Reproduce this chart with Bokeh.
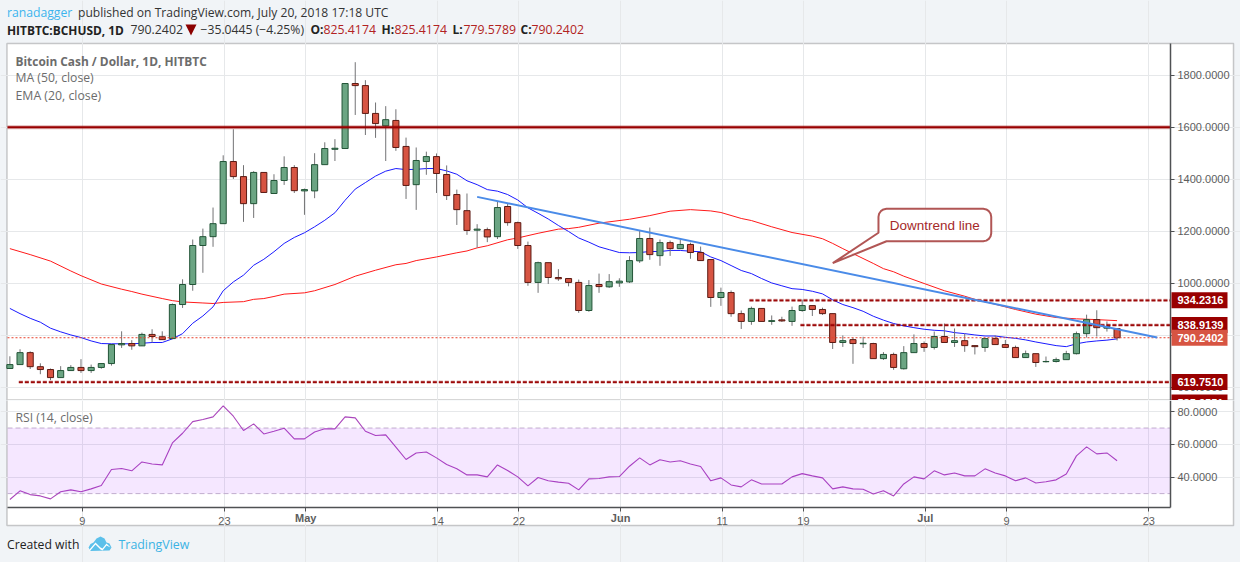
import math
from bokeh.embed import file_html
from bokeh.resources import INLINE
from bokeh.plotting import figure
from bokeh.layouts import column
from bokeh.models import (ColumnDataSource, BoxAnnotation, Label, FixedTicker,
                          PolyAnnotation, Range1d)
from bokeh.core.properties import value

opens = [672,687,733,679,668,637,664,676,664,676,691,763,768,759,803,794,787,918,995,1145,1179,1229,1468,1410,1306,1426,1345,1395,1445,
         1355,1355,1456,1515,1518,1768,1760,1653,1605,1626,1526,1379,1468,1487,1418,1341,1279,1204,1206,1179,1295,1233,1145,1003,1079,1022,1018,1003,895,995,
         986,1001,1005,1086,1172,1106,1156,1133,1149,1118,1091,945,964,883,853,903,853,859,853,895,914,899,883,772,783,767,768,710,726,
         671,733,768,753,795,772,779,760,753,787,764,753,714,729,698,699,706,729,806,860,827,825.4174]
highs = [719,746,738,692,672,681,685,708,687,691,764,815,781,810,823,815,922,1015,1168,1210,1291,1492,1592,1454,1431,1426,1419,1488,1454,
         1364,1500,1542,1554,1768,1850,1781,1695,1681,1669,1560,1522,1506,1499,1453,1360,1345,1227,1214,1314,1306,1237,1160,1083,1079,1054,1018,1014,1012,1037,
         1035,1019,1104,1201,1214,1168,1164,1168,1156,1141,1091,983,972,895,910,903,876,871,910,937,914,906,883,799,791,794,771,735,733,
         758,803,776,814,845,826,806,760,787,799,782,760,741,729,718,714,740,814,879,896,853,825.4174]
lows = [672,687,670,650,627,637,664,655,655,671,683,751,744,759,772,783,787,905,971,1040,1140,1229,1401,1236,1251,1349,1345,1378,1347,
        1263,1327,1456,1470,1518,1647,1570,1559,1470,1509,1324,1282,1417,1347,1320,1224,1186,1137,1158,1170,1221,1132,990,963,997,1009,988,886,890,963,
        982,986,1001,1078,1090,1067,1105,1131,1094,1086,909,913,871,824,840,853,840,851,836,890,874,878,747,755,690,751,710,705,667,
        668,733,736,745,772,755,736,726,736,764,753,714,714,678,695,695,706,726,791,795,814,779.5789]
closes = [687,733,679,668,637,664,676,664,676,691,764,768,759,803,795,783,918,995,1145,1179,1229,1468,1410,1306,1426,1349,1395,1445,1356,
          1360,1456,1518,1519,1768,1760,1653,1614,1629,1522,1376,1472,1487,1422,1337,1283,1203,1208,1178,1291,1233,1145,1003,1079,1022,1017,1003,895,991,987,
          1006,1008,1087,1172,1110,1156,1133,1149,1118,1087,945,964,883,853,903,853,856,855,895,914,899,883,772,779,768,769,710,726,676,
          733,768,753,795,772,779,760,756,787,764,753,714,729,695,699,706,729,806,860,829,833,790.2402]

ma_days = [0,2,4,6,7,9,11,12,13,15,16,17,19,20,21,23,24,25,26,27,29,30,32,34,36,38,39,40,42,44,45,46,47,49,50,52,54,55,56,58,
           61,63,65,67,69,70,72,73,75,77,79,80,81,82,83,85,86,87,88,90,92,94,95,97,99,101,103,105,107,109]
ma_vals = [1133,1110,1085,1047,1029,997,977,968,958,941,933,928,924,922,926,929,938,941,949,958,963,971,995,1027,1050,1071,1076,1087,1101,1117,1124,1136,1144,1167,1174,1192,1208,1210,1215,1231,
           1246,1260,1277,1283,1278,1272,1249,1241,1217,1195,1181,1171,1153,1133,1114,1076,1056,1044,1027,999,971,950,938,919,899,881,868,863,860,856]

ema_vals = [903,883,865,850,827,813,801,791,778,768,767,767,767,769,772,772,786,806,846,874,909,971,1005,1031,1069,1092,1121,1153,1176,
            1194,1217,1242,1271,1319,1362,1387,1412,1431,1441,1437,1438,1441,1441,1432,1419,1394,1379,1360,1354,1341,1320,1290,1269,1247,1222,1199,1174,1158,1140,
            1129,1118,1117,1118,1122,1122,1126,1126,1123,1121,1101,1087,1068,1049,1037,1018,1001,990,979,976,969,959,936,918,906,892,873,858,845,
            836,829,823,819,817,810,806,801,797,797,792,788,782,774,767,760,756,767,774,778,781,786]

rsi_vals = [26.4,31.7,29.4,28.6,26.8,31.1,32.3,31.1,32.9,34.9,44.7,45.3,43.9,49.3,48.1,47.5,60.9,66.8,73.9,75.2,76.8,83.5,77.2,68.5,72.5,66.4,68,69.9,63.4,63.4,
            67.6,69.5,69.5,76.8,76.2,68,65.4,65.8,58.3,50.8,54.8,55.4,51.8,47.7,45.1,41.4,41.4,40.2,47.5,44.1,40.2,34.7,39.8,37.8,37,36.3,32.3,39,39.2,40.2,40.4,
            46.7,51.8,47.5,50.6,49.3,50,48.1,46.5,37.8,39.6,35.3,34.1,38.4,35.9,35.9,35.9,40.2,42.2,40.8,39.6,32.9,34.1,32.9,32.7,29.8,31.7,28.6,35.9,40.2,39,
            43.9,41.4,42.6,40.8,40.8,45.1,42.6,40.8,37.8,39.6,36.5,37.2,38.4,42,53,58.5,54.2,54.8,50]

BAR_SHIFT = 0.12   # bars sit a pixel left of the day gridlines
days = [d-BAR_SHIFT for d in range(len(closes))]
ma_x = [d-BAR_SHIFT for d in ma_days]
time_ticks = [7,21,29,42,50,60,70,78,90,98,112]
time_labels = ["9","23","May","14","22","Jun","11","19","Jul","9","23"]
month_names = {"May","Jun","Jul"}
price_ticks = [600,800,1000,1200,1400,1600,1800]
rsi_ticks = [40,60,80]
resistance_1600 = 1600.0
level_starts = [0.76,72.69,77.71]
level_vals = [619.7510,934.2316,838.9139]
last_close = 790.2402
trend_days = [45.88,112.83]
trend_vals = [1332,791]
callout_left, callout_right, callout_top, callout_bottom = 85.39,96.49,1286,1161.5
callout_base = (85.39,1194)
callout_tip = (80.89,1077)
callout_base2 = (86.18,1161.5)
tags = [(934.2316,"934.2316","#990000"),(838.9139,"838.9139","#990000"),
        (790.2402,"790.2402","#d75442"),(619.7510,"619.7510","#990000"),(541.0,"585.2551","#990000")]

BG="#f1f4f7"; GRID="#e6e8ea"; FRAME="#4f5153"; AXT="#5d5d5d"; LEG="#6c6c6c"
UP="#6ba583"; UPL="#225437"; DN="#d75442"; DNL="#5b1a13"; WICK="#737375"; DR="#990000"
F="Open Sans"; AF="Liberation Sans"
XL,XR=-0.354,114.14        # pane edges in days
XMIN,XMAX=-1.0435,121.03   # page edges in days

def base(h, yr, pane_y):
    f = figure(width=1240, height=h, x_range=Range1d(XMIN,XMAX), y_range=yr,
               output_backend="svg", toolbar_location=None, tools="", min_border=0,
               border_fill_color=BG, background_fill_color=BG, y_axis_location="right")
    f.outline_line_color=None
    f.xgrid.ticker=FixedTicker(ticks=time_ticks); f.xgrid.grid_line_color=GRID; f.ygrid.grid_line_color=GRID
    f.xgrid.bounds=pane_y; f.ygrid.bounds=(XL,XR)
    ax=f.yaxis[0]
    ax.fixed_location=XR; ax.bounds=pane_y
    ax.axis_line_color=FRAME; ax.axis_line_width=1.5; ax.major_tick_line_color=FRAME; ax.major_tick_in=0; ax.major_tick_out=4
    ax.minor_tick_line_color=None; ax.major_label_text_font=AF; ax.major_label_text_font_size="11px"
    ax.major_label_text_color=AXT; ax.major_label_standoff=3; ax.major_label_text_align="left"
    return f

def pane_box(f,t,b):
    f.add_layout(BoxAnnotation(left=6.5,right=1233,top=t,bottom=b,left_units="canvas",right_units="canvas",top_units="canvas",bottom_units="canvas",
        fill_color="white",fill_alpha=1,line_color=FRAME,line_width=1.5,level="image"))

def lab(f,x,y,t,size,color,font=F,bold=False,xu="canvas",yu="canvas",align="left"):
    f.add_layout(Label(x=x,y=y,x_units=xu,y_units=yu,text=t,text_font=font,text_font_size=size,text_color=color,
        text_font_style="bold" if bold else "normal",text_baseline="middle",text_align=align))

# ---------- price pane
p=base(400,Range1d(548.9,2087.3),(548.9,1921.9))
p.xaxis.visible=False
p.yaxis.ticker=FixedTicker(ticks=price_ticks)
p.yaxis.major_label_overrides={v:f"{v:.4f}" for v in price_ticks}
p.ygrid.ticker=FixedTicker(ticks=price_ticks)
pane_box(p,43,399.5)

p.line(ma_x,ma_vals,line_color="#ff1a1a",line_width=1)
p.line(days,ema_vals,line_color="#1a1aff",line_width=1)

col=["up" if c>=o else "dn" for o,c in zip(opens,closes)]
src=ColumnDataSource(dict(x=days,o=opens,h=highs,l=lows,c=closes,
    bt=[max(a,b) for a,b in zip(opens,closes)],bb=[min(a,b) for a,b in zip(opens,closes)],
    fc=[UP if k=="up" else DN for k in col],lc=[UPL if k=="up" else DNL for k in col]))
p.segment("x","h","x","l",source=src,line_color=WICK,line_width=1)
p.vbar("x",width=0.6,top="bt",bottom="bb",source=src,fill_color="fc",line_color="lc",line_width=1)

# drawings
p.segment([XL],[last_close],[XR],[last_close],line_color="#e8402a",line_width=1,line_dash="2 2")
p.segment([XL],[resistance_1600],[XR],[resistance_1600],line_color=DR,line_width=4,line_alpha=0.3)
p.segment([XL],[resistance_1600],[XR],[resistance_1600],line_color=DR,line_width=2)
p.segment(level_starts,level_vals,[XR]*3,level_vals,line_color=DR,line_width=3.2,line_dash="4 2",line_alpha=0.3)
p.segment(level_starts,level_vals,[XR]*3,level_vals,line_color=DR,line_width=1.8,line_dash="4 2",line_alpha=0.95)
p.line(trend_days,trend_vals,line_color="#4a8be8",line_width=2)

# callout outline: rounded box opened at its lower left for the pointer
dx,dy=0.79,30.8
cl,cr,ct,cb=callout_left,callout_right,callout_top,callout_bottom
def quarter(cx,cy,a0):
    return [(cx+dx*math.cos(math.radians(a0-a)),cy+dy*math.sin(math.radians(a0-a))) for a in (0,22.5,45,67.5,90)]
path=[callout_base]+quarter(cl+dx,ct-dy,180)+quarter(cr-dx,ct-dy,90)+quarter(cr-dx,cb+dy,0)+[callout_base2,callout_tip]
p.patch([q[0] for q in path],[q[1] for q in path],fill_color="white",fill_alpha=0.85,line_color="#a94442",line_width=2,line_alpha=0.9)
p.text([(cl+cr)/2],[(ct+cb)/2],text=["Downtrend line"],text_align="center",text_baseline="middle",
       text_font=value(AF),text_font_size="13.5px",text_color="#a52a2a")

# price tags
half=8/0.26
for v,t,c in tags:
    p.add_layout(BoxAnnotation(left=1171,right=1227,left_units="canvas",right_units="canvas",bottom=v-half,top=v+half,
        fill_color=c,fill_alpha=1,line_color=None))
    lab(p,1177,v,t,"11px","white",font=AF,bold=True,yu="data")

# header
lab(p,6.5,12,"ranadagger","12.2px","#3cb4ee")
lab(p,77.5,12,"published on TradingView.com, July 20, 2018 17:18 UTC","12.1px","#333333")
lab(p,6.5,29,"HITBTC:BCHUSD, 1D","11.9px","#222222",bold=True)
lab(p,130,29,"790.2402","12.3px","#333333")
p.add_layout(PolyAnnotation(xs=[185,196,190.5],ys=[24,24,35],xs_units="canvas",ys_units="canvas",fill_color="#8b0000",fill_alpha=1,line_color=None))
lab(p,200,29,"\u221235.0445 (\u22124.25%)","12.2px","#333333")
for x,t in [(310,"O:"),(381,"H:"),(452,"L:"),(520,"C:")]:
    lab(p,x,29,t,"12px","#222222",bold=True)
for x,t in [(323,"825.4174"),(394,"825.4174"),(463,"779.5789"),(531,"790.2402")]:
    lab(p,x,29,t,"12.3px","#b22222")
lab(p,15,60.5,"Bitcoin Cash / Dollar, 1D, HITBTC","11.9px",LEG,bold=True)
lab(p,15,77,"MA (50, close)","12.2px",LEG)
lab(p,15,94.7,"EMA (20, close)","12.3px",LEG)

# ---------- RSI pane
r=base(162,Range1d(-12.0,86.77),(21.5,86.77))
r.yaxis.ticker=FixedTicker(ticks=rsi_ticks)
r.yaxis.major_label_overrides={v:f"{v:.4f}" for v in rsi_ticks}
r.ygrid.ticker=FixedTicker(ticks=rsi_ticks)
pane_box(r,-5,125)
r.add_layout(BoxAnnotation(left=XL,right=XR,bottom=30,top=70,fill_color="#9915ff",fill_alpha=0.1,line_color=None,level="glyph"))
r.segment([XL,XL],[30,70],[XR,XR],[30,70],line_color="#c3b5cc",line_width=1,line_dash="5 3")
r.line(days,rsi_vals,line_color="#ab47bc",line_width=1.1)
xa=r.xaxis[0]
xa.fixed_location=21.5; xa.bounds=(XL,XR)
xa.ticker=FixedTicker(ticks=time_ticks)
xa.major_label_overrides={t:(" " if l in month_names else l) for t,l in zip(time_ticks,time_labels)}
xa.axis_line_color=FRAME; xa.axis_line_width=1.5; xa.major_tick_line_color=FRAME; xa.major_tick_in=0; xa.major_tick_out=4; xa.minor_tick_line_color=None
xa.major_label_text_font=AF; xa.major_label_text_font_size="11px"; xa.major_label_text_color=AXT; xa.major_label_standoff=3
for t,l in zip(time_ticks,time_labels):
    if l in month_names:
        lab(r,t,117,l,"11px",AXT,font=AF,bold=True,xu="data",align="center")
lab(r,15,16.7,"RSI (14, close)","12.2px",LEG)
lab(r,6.5,144,"Created with","12.2px","#222222")
lab(r,118,144,"TradingView","12.4px","#3bb3e4")
r.add_layout(PolyAnnotation(xs=[88,90,93,96,100,104,106,109,111,109,90],ys=[147,143.5,142,138,136,138,142,143,147,150,150.5],
    xs_units="canvas",ys_units="canvas",fill_color="#5cc0ea",fill_alpha=1,line_color=None))
r.add_layout(PolyAnnotation(xs=[89,95,100,102,106,110,106,102,100,95,89],ys=[149,142,147,148,143,147,145,150,149,144,151],
    xs_units="canvas",ys_units="canvas",fill_color="white",fill_alpha=1,line_color=None))

layout=column(p,r,spacing=0)
html=file_html(layout,INLINE,title="BCHUSD")
html=html.replace("<head>","<head><style>html,body{margin:0;padding:0;background:%s;overflow:hidden}</style>"%BG,1)
open("out.html","w").write(html)
